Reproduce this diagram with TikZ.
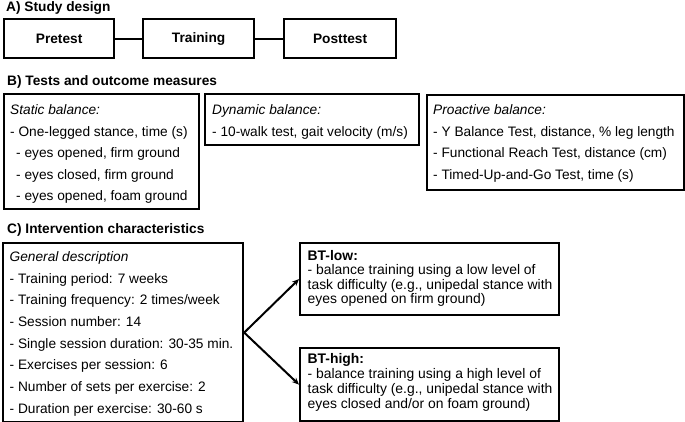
\documentclass[tikz,border=0pt]{standalone}
\usepackage{fontspec}
\setmainfont{Liberation Sans}
\usetikzlibrary{arrows.meta}
\begin{document}
\begin{tikzpicture}[x=1pt,y=-1pt,
  box/.style={draw,line width=2.2pt,inner sep=0pt,anchor=north west,font=\fontsize{13.7}{16}\selectfont\bfseries},
  txt/.style={anchor=north west,inner sep=0pt,align=left,font=\fontsize{13.7}{21.5}\selectfont},
  gtxt/.style={txt,font=\fontsize{13.7}{21.65}\selectfont},
  bttxt/.style={anchor=north west,inner sep=0pt,align=left,font=\fontsize{13.9}{#1}\selectfont},
  ttl/.style={anchor=base west,inner sep=0pt,font=\fontsize{13.7}{16}\selectfont\bfseries},
  conn/.style={line width=2pt},
  arr/.style={line width=2pt,-{Stealth[length=7pt,width=6pt]}}]
\useasboundingbox (0,0) rectangle (685,422);
% A
\node[ttl] (ta) at (6,11.7) {A) Study design};
\node[box,minimum width=110pt,minimum height=39pt] (pre) at (3,18) {Pretest};
\node[box,minimum width=111pt,minimum height=39pt] (tra) at (142,18) {Training};
\node[box,minimum width=112pt,minimum height=39pt] (post) at (283,18) {Posttest};
\draw[conn] (pre) -- (tra);
\draw[conn] (tra) -- (post);
% B
\node[ttl] (tb) at (7,85.7) {B) Tests and outcome measures};
\node[box,minimum width=195pt,minimum height=115pt] (stat) at (2.5,93) {};
\node[box,minimum width=214pt,minimum height=51pt] (dyn) at (204,93) {};
\node[box,minimum width=257pt,minimum height=95pt] (pro) at (426,94) {};
\node[txt] (statt) at (10,104.8) {\itshape Static balance:\\
- One-legged stance, time (s)\\
\hspace*{6pt}- eyes opened, firm ground\\
\hspace*{6pt}- eyes closed, firm ground\\
\hspace*{6pt}- eyes opened, foam ground};
\node[txt] (dynt) at (212,104.8) {\itshape Dynamic balance:\\
- 10-walk test, gait velocity (m/s)};
\node[txt] (prot) at (433,104.8) {\itshape Proactive balance:\\
- Y Balance Test, distance, \% leg length\\
- Functional Reach Test, distance (cm)\\
- Timed-Up-and-Go Test, time (s)};
% C
\node[ttl] (tc) at (7,233.3) {C) Intervention characteristics};
\node[box,minimum width=240pt,minimum height=179pt] (gen) at (2,242) {};
\node[gtxt] (gent) at (9.5,251.5) {\itshape General description\\
- Training period: 7 weeks\\
- Training frequency: 2 times/week\\
- Session number: 14\\
- Single session duration: 30-35 min.\\
- Exercises per session: 6\\
- Number of sets per exercise: 2\\
- Duration per exercise: 30-60 s};
\node[box,minimum width=259pt,minimum height=72pt] (btl) at (299,242) {};
\node[box,minimum width=259pt,minimum height=73pt] (bth) at (299,347) {};
\node[bttxt=14.5] (btlt) at (307.5,250) {\textbf{BT-low:}\\
- balance training using a low level of\\
task difficulty (e.g., unipedal stance with\\
eyes opened on firm ground)};
\node[bttxt=15] (btht) at (307.5,353.3) {\textbf{BT-high:}\\
- balance training using a high level of\\
task difficulty (e.g., unipedal stance with\\
eyes closed and/or on foam ground)};
\draw[arr] (gen.east) -- (btl.west);
\draw[arr] (gen.east) -- (bth.west);
\end{tikzpicture}
\end{document}
